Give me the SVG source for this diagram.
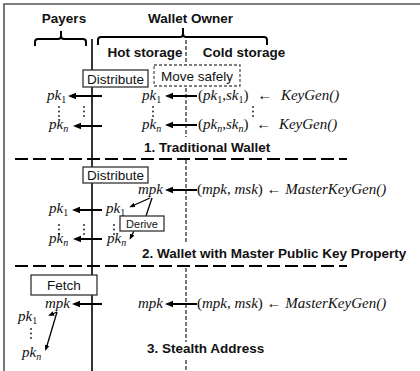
<svg xmlns="http://www.w3.org/2000/svg" width="420" height="371" viewBox="0 0 420 371">
<style>
.b{font-family:"Liberation Sans",Arial,sans-serif;font-weight:bold;font-size:13.5px;fill:#111}
.r{font-family:"Liberation Sans",Arial,sans-serif;font-size:13.5px;fill:#111}
.d{font-family:"Liberation Sans",Arial,sans-serif;font-size:11px;fill:#111}
.m{font-family:"Liberation Serif","Times New Roman",serif;font-style:italic;font-size:15px;fill:#111}
.u{font-style:normal}
.s{font-size:10px}
.box{fill:#fff;stroke:#333;stroke-width:1.3}
.dbox{fill:#fff;stroke:#555;stroke-width:1.3;stroke-dasharray:3 2}
.arr{stroke:#000;stroke-width:2;fill:none}
.thin{stroke:#000;stroke-width:1.3;fill:none}
.sep{stroke:#000;stroke-width:2;stroke-dasharray:13 5;fill:none}
.vd{stroke:#333;stroke-width:1.3;stroke-dasharray:4 2;fill:none}
.brace{stroke:#000;stroke-width:2;fill:none}
.dot{fill:#222}
</style>
<defs>
<marker id="ah" markerWidth="8" markerHeight="8" refX="4" refY="4" orient="auto" markerUnits="userSpaceOnUse"><path d="M0,0.8 L8,4 L0,7.2 Z" fill="#000"/></marker>
<marker id="as" markerWidth="6" markerHeight="6" refX="4" refY="3" orient="auto" markerUnits="userSpaceOnUse"><path d="M0,0.6 L6,3 L0,5.4 Z" fill="#000"/></marker>
<g id="vdots" class="dot"><circle cx="0" cy="0" r="0.95"/><circle cx="0" cy="4.5" r="0.95"/><circle cx="0" cy="9" r="0.95"/></g>
</defs>
<rect width="420" height="371" fill="#fff"/>
<path d="M4,371 V4 H420" fill="none" stroke="#555" stroke-width="1.6"/>

<g id="headers">
<text class="b" x="64" y="23" text-anchor="middle">Payers</text>
<text class="b" x="190.5" y="23" text-anchor="middle">Wallet Owner</text>
<path class="brace" d="M35,46 V42 Q35,39 38,39 H58 Q61,39 61,36 V31 M61,36 Q61,39 64,39 H83 Q86,39 86,42 V46"/>
<path class="brace" d="M98,45 V40 Q98,37 101,37 H180 Q183,37 183,34 V28 M183,34 Q183,37 186,37 H264 Q267,37 267,40 V45"/>
<text class="b" x="145" y="57" text-anchor="middle">Hot storage</text>
<text class="b" x="244" y="57" text-anchor="middle">Cold storage</text>
</g>

<g id="connectors">
<line x1="92" y1="39" x2="92" y2="371" stroke="#000" stroke-width="1.6"/>
<path class="vd" d="M186,40 V137 M186,160 V244 M186,268 V342 M186,360 V371"/>
<line class="sep" x1="15" y1="159" x2="347" y2="159"/>
<line class="sep" x1="15" y1="266" x2="347" y2="266"/>
<line class="arr" x1="102" y1="96" x2="72" y2="96" marker-end="url(#ah)"/>
<line class="arr" x1="197" y1="96" x2="169" y2="96" marker-end="url(#ah)"/>
<line class="arr" x1="102" y1="126" x2="77" y2="126" marker-end="url(#ah)"/>
<line class="arr" x1="197" y1="125" x2="169" y2="125" marker-end="url(#ah)"/>
<line class="arr" x1="197" y1="190" x2="169" y2="190" marker-end="url(#ah)"/>
<line class="arr" x1="102" y1="210" x2="76" y2="210" marker-end="url(#ah)"/>
<line class="arr" x1="102" y1="239" x2="77" y2="239" marker-end="url(#ah)"/>
<line class="thin" x1="150" y1="198" x2="131" y2="206.5" marker-end="url(#as)"/>
<line class="thin" x1="152" y1="198" x2="146" y2="216"/>
<line class="thin" x1="134" y1="231" x2="130.5" y2="238" marker-end="url(#as)"/>
<line class="arr" x1="102" y1="304" x2="76" y2="304" marker-end="url(#ah)"/>
<line class="arr" x1="197" y1="304" x2="169" y2="304" marker-end="url(#ah)"/>
<line class="thin" x1="57" y1="312" x2="50" y2="315" marker-end="url(#as)"/>
<line class="thin" x1="57" y1="312" x2="46" y2="349" marker-end="url(#as)"/>
</g>

<g id="distribute1"><rect class="box" x="83" y="70" width="65" height="17"/><text class="r" x="115.5" y="83.5" text-anchor="middle">Distribute</text></g>
<g id="move-safely"><rect class="dbox" x="154" y="65" width="86" height="21"/><text class="r" x="197" y="80.5" text-anchor="middle">Move safely</text></g>

<g id="section1">
<text class="m" x="47" y="100">pk<tspan class="s u" dy="3">1</tspan></text>
<text class="m" x="142" y="100">pk<tspan class="s u" dy="3">1</tspan></text>
<text class="m" x="198" y="100"><tspan class="u">(</tspan>pk<tspan class="s u" dy="3">1</tspan><tspan class="u" dy="-3">,</tspan>sk<tspan class="s u" dy="3">1</tspan><tspan class="u" dy="-3">)</tspan><tspan class="u" dx="5"> ← </tspan><tspan dx="5">KeyGen()</tspan></text>
<use href="#vdots" x="59" y="107"/>
<use href="#vdots" x="84" y="107"/>
<use href="#vdots" x="153" y="107"/>
<use href="#vdots" x="253" y="107"/>
<text class="m" x="49" y="129">pk<tspan class="s" dy="3">n</tspan></text>
<text class="m" x="142" y="129">pk<tspan class="s" dy="3">n</tspan></text>
<text class="m" x="198" y="129"><tspan class="u">(</tspan>pk<tspan class="s" dy="3">n</tspan><tspan class="u" dy="-3">,</tspan>sk<tspan class="s" dy="3">n</tspan><tspan class="u" dy="-3">)</tspan><tspan class="u" dx="4"> ← </tspan><tspan dx="4">KeyGen()</tspan></text>
<text class="b" x="144" y="152">1. Traditional Wallet</text>
</g>

<g id="distribute2"><rect class="box" x="83" y="167" width="65" height="16"/><text class="r" x="115.5" y="180" text-anchor="middle">Distribute</text></g>

<g id="section2">
<text class="m" x="138" y="194">mpk</text>
<text class="m" x="197" y="194"><tspan class="u">(</tspan>mpk<tspan class="u">, </tspan>msk<tspan class="u">) ← </tspan>MasterKeyGen()</text>
<text class="m" x="49" y="213">pk<tspan class="s u" dy="3">1</tspan></text>
<text class="m" x="106" y="213">pk<tspan class="s u" dy="3">1</tspan></text>
<use href="#vdots" x="59" y="225"/>
<use href="#vdots" x="84" y="225"/>
<use href="#vdots" x="114" y="225"/>
<text class="m" x="49" y="243">pk<tspan class="s" dy="3">n</tspan></text>
<text class="m" x="107" y="243">pk<tspan class="s" dy="3">n</tspan></text>
<text class="b" x="142" y="258">2. Wallet with Master Public Key Property</text>
</g>

<g id="derive"><rect class="box" x="120" y="216" width="44" height="15"/><text class="d" x="142" y="227.5" text-anchor="middle">Derive</text></g>

<g id="fetch"><rect class="box" x="31" y="275" width="66" height="20"/><text class="r" x="64" y="289.5" text-anchor="middle">Fetch</text></g>

<g id="section3">
<text class="m" x="45" y="308">mpk</text>
<text class="m" x="138" y="308">mpk</text>
<text class="m" x="197" y="308"><tspan class="u">(</tspan>mpk<tspan class="u">, </tspan>msk<tspan class="u">) ← </tspan>MasterKeyGen()</text>
<text class="m" x="18" y="321">pk<tspan class="s u" dy="3">1</tspan></text>
<use href="#vdots" x="31" y="329"/>
<text class="m" x="22" y="357">pk<tspan class="s" dy="3">n</tspan></text>
<text class="b" x="147" y="353">3. Stealth Address</text>
</g>
</svg>
